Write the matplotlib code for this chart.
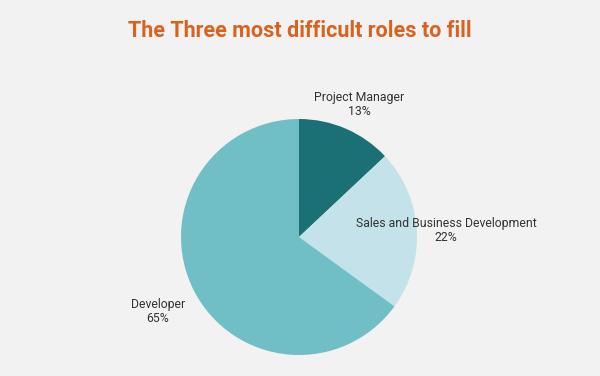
import numpy as np
import matplotlib.pyplot as plt

# roles and their share of the hardest-to-fill positions
roles = ["Project Manager", "Sales and Business Development", "Developer"]
shares = [13, 22, 65]
colors = ["#1b7075", "#c3e2ea", "#71bfc6"]

bg = "#f2f2f2"
W, H = 600, 376
cx, cy, r = 299, H - 237, 118

fig = plt.figure(figsize=(6, 3.76), dpi=100, facecolor=bg)
ax = fig.add_axes([0, 0, 1, 1])
ax.set_facecolor(bg)

wedges, _ = ax.pie(shares, colors=colors, startangle=90, counterclock=False,
                   center=(cx, cy), radius=r, frame=False,
                   wedgeprops=dict(linewidth=0))
ax.set_xlim(0, W)
ax.set_ylim(0, H)
ax.set_aspect("equal")
ax.axis("off")

# label distances (fraction of radius) and small angle tweaks
label_dist = [1.23, 1.25, 1.35]
angle_off = [-1.0, -0.9, 0.8]
for w, name, pct, d, da in zip(wedges, roles, shares, label_dist, angle_off):
    ang = np.deg2rad((w.theta1 + w.theta2) / 2 + da)
    x = cx + d * r * np.cos(ang)
    y = cy + d * r * np.sin(ang)
    ax.text(x, y, "%s\n%d%%" % (name, pct), ha="center", va="center",
            fontsize=8.8, color="#333333", family="Roboto", linespacing=1.1)

fig.text(0.5, 1 - 31 / H, "The Three most difficult roles to fill",
         ha="center", va="center", fontsize=15.5, fontweight="bold",
         color="#d9621f", family="Roboto")

fig.savefig("out.png", dpi=100, facecolor=bg)
